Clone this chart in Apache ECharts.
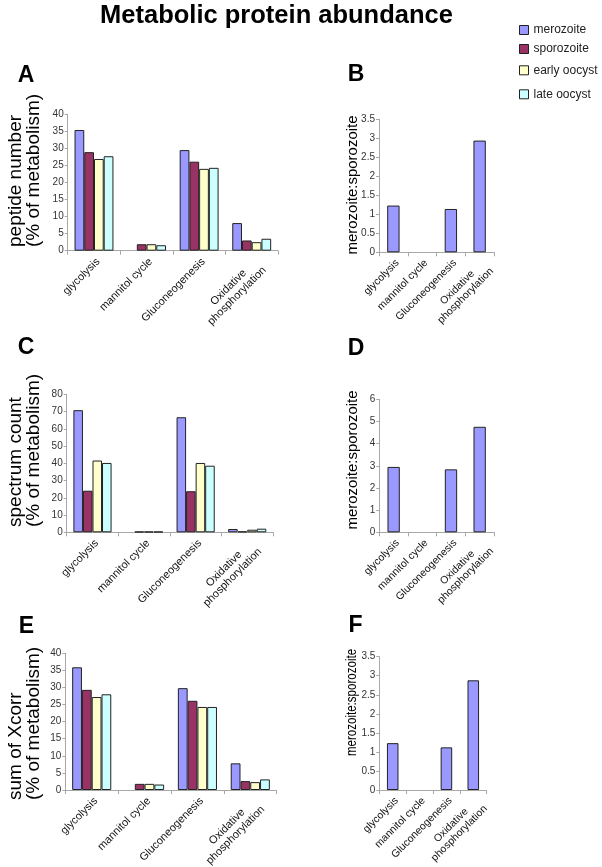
<!DOCTYPE html>
<html><head><meta charset="utf-8">
<script src="https://cdn.jsdelivr.net/npm/echarts@6/dist/echarts.min.js"></script>
<style>html,body{margin:0;padding:0;background:#fff}#c{width:602px;height:867px}</style>
</head><body><div id="c"></div>
<script>
// ---------- data ----------
const categories = ['glycolysis', 'mannitol cycle', 'Gluconeogenesis', 'Oxidative\nphosphorylation'];
const stages = ['merozoite', 'sporozoite', 'early oocyst', 'late oocyst'];

// A: peptide number (% of metabolism)
const peptideMerozoite   = [35.4, 0,   29.5, 8.1];
const peptideSporozoite  = [28.9, 1.9, 26.1, 3.0];
const peptideEarlyOocyst = [26.9, 1.9, 24.0, 2.5];
const peptideLateOocyst  = [27.7, 1.6, 24.3, 3.5];
// B: merozoite:sporozoite (peptide number)
const peptideRatio = [1.23, 0, 1.14, 2.94];

// C: spectrum count (% of metabolism)
const spectrumMerozoite   = [70.8, 0,   66.7, 1.9];
const spectrumSporozoite  = [24.1, 0.4, 23.8, 0.5];
const spectrumEarlyOocyst = [41.6, 0.4, 40.2, 1.5];
const spectrumLateOocyst  = [40.2, 0.4, 38.6, 2.1];
// D: merozoite:sporozoite (spectrum count)
const spectrumRatio = [2.95, 0, 2.84, 4.76];

// E: sum of Xcorr (% of metabolism)
const xcorrMerozoite   = [35.9, 0,   29.8, 7.8];
const xcorrSporozoite  = [29.3, 1.8, 26.1, 2.6];
const xcorrEarlyOocyst = [27.2, 1.8, 24.3, 2.3];
const xcorrLateOocyst  = [28.0, 1.6, 24.3, 3.1];
// F: merozoite:sporozoite (sum of Xcorr)
const xcorrRatio = [1.23, 0, 1.12, 2.88];

// ---------- styles / layout ----------
const FONT = "'Liberation Sans', Arial, Helvetica, sans-serif";
const stageColors = ['#9999ff', '#993366', '#ffffcc', '#ccffff'];
const axisColor = '#a8a8a8';

const grids = [
  {left: 67.7, top: 114.3, width: 210.3, height: 136.4},   // A
  {left: 379,  top: 119.3, width: 115,   height: 133},     // B
  {left: 66.7, top: 394.3, width: 206.3, height: 138},     // C
  {left: 379.3,top: 399.3, width: 114.7, height: 133},     // D
  {left: 65.3, top: 653.3, width: 211.4, height: 136.7},   // E
  {left: 379.3,top: 656.7, width: 107.4, height: 133.3}    // F
].map(g => Object.assign({outerBoundsMode: 'none', containLabel: false}, g));

const yScales = [
  {max: 40, interval: 5}, {max: 3.5, interval: 0.5},
  {max: 80, interval: 10}, {max: 6, interval: 1},
  {max: 40, interval: 5}, {max: 3.5, interval: 0.5}
];

function xAxisFor(gi) {
  const fs = (gi % 2 === 0) ? 11 : 10.5;
  return {
    type: 'category', gridIndex: gi, data: categories,
    axisLine: {show: true, lineStyle: {color: axisColor, width: 1}},
    axisTick: {show: true, length: 4, lineStyle: {color: axisColor}},
    splitLine: {show: false},
    axisLabel: {
      interval: 0, rotate: 45, margin: 5, fontSize: fs, fontFamily: FONT, color: '#111',
      align: 'right', verticalAlign: 'top',
      formatter: v => v.split('\n').map(s => '{c|' + s + '}').join('\n'),
      rich: {c: {align: 'center', fontSize: fs, fontFamily: FONT, color: '#111', lineHeight: fs + 1}}
    }
  };
}
function yAxisFor(gi) {
  return {
    type: 'value', gridIndex: gi, min: 0, max: yScales[gi].max, interval: yScales[gi].interval,
    axisLine: {show: true, lineStyle: {color: axisColor, width: 1}},
    axisTick: {show: true, length: 3, lineStyle: {color: axisColor}},
    splitLine: {show: false},
    axisLabel: {fontSize: 10, fontFamily: FONT, color: '#333', margin: 4}
  };
}

// zero-height bars get no outline (nothing drawn, like the reference)
const withoutZeroOutline = arr => arr.map(v => v === 0 ? {value: 0, itemStyle: {borderWidth: 0}} : v);

const barBorder = {borderColor: '#222', borderWidth: 1};
function groupSeries(gi, arrays) {
  return arrays.map((arr, i) => ({
    type: 'bar', name: stages[i], xAxisIndex: gi, yAxisIndex: gi, data: withoutZeroOutline(arr),
    barGap: '0%', barCategoryGap: '26%',
    itemStyle: Object.assign({color: stageColors[i]}, barBorder),
    emphasis: {disabled: true}
  }));
}
function ratioSeries(gi, arr) {
  return [{
    type: 'bar', name: 'merozoite:sporozoite', xAxisIndex: gi, yAxisIndex: gi, data: withoutZeroOutline(arr),
    barCategoryGap: '57%',
    itemStyle: Object.assign({color: stageColors[0]}, barBorder),
    emphasis: {disabled: true}
  }];
}

const series = [].concat(
  groupSeries(0, [peptideMerozoite, peptideSporozoite, peptideEarlyOocyst, peptideLateOocyst]),
  ratioSeries(1, peptideRatio),
  groupSeries(2, [spectrumMerozoite, spectrumSporozoite, spectrumEarlyOocyst, spectrumLateOocyst]),
  ratioSeries(3, spectrumRatio),
  groupSeries(4, [xcorrMerozoite, xcorrSporozoite, xcorrEarlyOocyst, xcorrLateOocyst]),
  ratioSeries(5, xcorrRatio)
);

const legendTops = [24, 43, 64.3, 88.3];
const legends = stages.map((s, i) => ({
  show: true, orient: 'vertical', left: 519, top: legendTops[i], padding: 0,
  data: [s], icon: 'rect', itemWidth: 9, itemHeight: 9, itemGap: 0,
  itemStyle: {borderColor: '#222', borderWidth: 1},
  textStyle: {fontSize: 12, fontFamily: FONT, color: '#222'},
  selectedMode: false
}));

function txt(text, x, y, font, opts) {
  opts = opts || {};
  const el = {
    type: 'text', x: x, y: y, silent: true,
    style: Object.assign({text: text, font: font, fill: '#000', align: 'center', verticalAlign: 'middle'}, opts.style || {})
  };
  if (opts.rotation !== undefined) el.rotation = opts.rotation;
  if (opts.scaleX !== undefined) el.scaleX = opts.scaleX;
  return el;
}

const graphic = [
  txt('Metabolic protein abundance', 276.5, 15.5, "bold 25.5px " + FONT),
  txt('A', 26, 76, "bold 23px " + FONT),
  txt('B', 356, 74.5, "bold 23px " + FONT),
  txt('C', 26, 348, "bold 23px " + FONT),
  txt('D', 356, 348.5, "bold 23px " + FONT),
  txt('E', 26.5, 627, "bold 23px " + FONT),
  txt('F', 355.5, 626, "bold 23px " + FONT),
  // y-axis names, left column
  txt('peptide number\n(% of metabolism)', 25, 247, "19px " + FONT, {rotation: Math.PI / 2, style: {align: 'left', lineHeight: 18}}),
  txt('spectrum count\n(% of metabolism)', 25, 527, "19px " + FONT, {rotation: Math.PI / 2, style: {align: 'left', lineHeight: 18}}),
  txt('sum of Xcorr\n(% of metabolism)', 25, 800, "19px " + FONT, {rotation: Math.PI / 2, style: {align: 'left', lineHeight: 18}}),
  // y-axis names, right column
  txt('merozoite:sporozoite', 353, 185, "15px " + FONT, {rotation: Math.PI / 2}),
  txt('merozoite:sporozoite', 352.5, 460, "15px " + FONT, {rotation: Math.PI / 2}),
  txt('merozoite:sporozoite', 352, 702.5, "15px " + FONT, {rotation: Math.PI / 2, scaleX: 0.77})
];

const chart = echarts.init(document.getElementById('c'), null, {renderer: 'canvas'});
chart.setOption({
  backgroundColor: '#ffffff',
  animation: false,
  textStyle: {fontFamily: FONT},
  grid: grids,
  xAxis: [0, 1, 2, 3, 4, 5].map(xAxisFor),
  yAxis: [0, 1, 2, 3, 4, 5].map(yAxisFor),
  legend: legends,
  series: series,
  graphic: graphic
});
</script>
</body></html>
